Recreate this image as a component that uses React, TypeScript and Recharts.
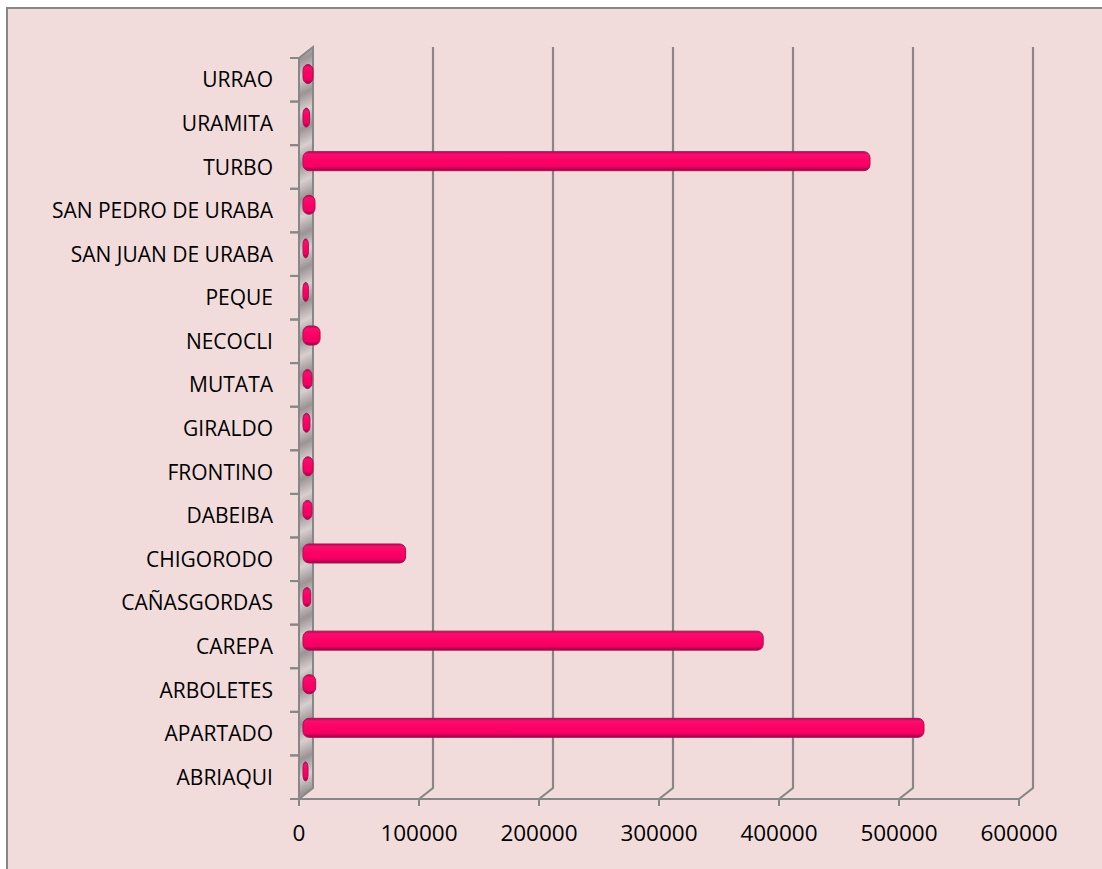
import React from "react";
import { BarChart, Bar, XAxis, YAxis, CartesianGrid } from "recharts";

const categories = [
  "ABRIAQUI",
  "APARTADO",
  "ARBOLETES",
  "CAREPA",
  "CAÑASGORDAS",
  "CHIGORODO",
  "DABEIBA",
  "FRONTINO",
  "GIRALDO",
  "MUTATA",
  "NECOCLI",
  "PEQUE",
  "SAN JUAN DE URABA",
  "SAN PEDRO DE URABA",
  "TURBO",
  "URAMITA",
  "URRAO",
];

const values = [
  1500, 515000, 8000, 381000, 4000, 83000, 5000, 5800, 3300, 5000, 11700, 2000,
  2000, 7500, 470000, 3000, 5800,
];

const xTicks = [0, 100000, 200000, 300000, 400000, 500000, 600000];

const data = categories.map((name, i) => ({ name, value: values[i] }));

const W = 1102;
const H = 869;
const PLOT_LEFT = 299;
const PLOT_RIGHT = 1019;
const PLOT_TOP = 58;
const PLOT_BOTTOM = 799;
const DX = 14;
const DY = -11;
const BAND = (PLOT_BOTTOM - PLOT_TOP) / categories.length;
const GRAY = "#878787";
const FONT = "'Open Sans', sans-serif";

const YTick = (props: any) => {
  const { x, y, payload } = props;
  return (
    <g>
      <line x1={x - 9} x2={x} y1={y - BAND / 2} y2={y - BAND / 2} stroke={GRAY} strokeWidth={2} />
      <line x1={x - 9} x2={x} y1={y + BAND / 2} y2={y + BAND / 2} stroke={GRAY} strokeWidth={2} />
      <text
        x={x - 26}
        y={y}
        dy="0.36em"
        textAnchor="end"
        fontFamily={FONT}
        fontSize={21}
        fill="#000"
      >
        {payload.value}
      </text>
    </g>
  );
};

const renderVertical = (props: any) => {
  const { x1, y1, y2, index, key } = props;
  const top = Math.min(y1, y2);
  const bottom = Math.max(y1, y2);
  if (index === 0 || Math.abs(x1 - PLOT_LEFT) < 1) {
    return (
      <path
        key={key ?? `v-${index}`}
        d={`M${x1},${top} L${x1 + DX},${top + DY} L${x1 + DX},${bottom + DY} L${x1},${bottom} Z`}
        fill="url(#wallGrad)"
        stroke={GRAY}
        strokeWidth={2}
      />
    );
  }
  return (
    <path
      key={key ?? `v-${index}`}
      d={`M${x1 + DX},${top + DY} L${x1 + DX},${bottom + DY} L${x1},${bottom}`}
      fill="none"
      stroke={GRAY}
      strokeWidth={2.2}
    />
  );
};

const BarShape = (props: any) => {
  const { x, y, width, height } = props;
  const bx = x + 4;
  const bw = Math.max(width + 3, 5);
  const by = y - 5.5;
  return (
    <rect
      x={bx}
      y={by}
      width={bw}
      height={height}
      rx={Math.min(6, bw / 2)}
      ry={6}
      fill="url(#barGrad)"
      stroke="#a8124e"
      strokeWidth={1}
    />
  );
};

export default function App() {
  return (
    <div style={{ position: "absolute", left: 0, top: 0, width: W, height: H, background: "#fff" }}>
      <div
        style={{
          position: "absolute",
          left: 6,
          top: 7,
          width: W - 6,
          height: H - 7,
          background: "#f2dcdb",
          borderLeft: `2px solid ${GRAY}`,
          borderTop: `2px solid ${GRAY}`,
          boxSizing: "border-box",
        }}
      />
      <div style={{ position: "absolute", left: 0, top: 0 }}>
        <BarChart
          width={W}
          height={H}
          data={data}
          layout="vertical"
          margin={{ top: PLOT_TOP, right: W - PLOT_RIGHT, bottom: 30, left: 0 }}
          barSize={19}
        >
          <defs>
            <linearGradient id="barGrad" x1="0" y1="0" x2="0" y2="1">
              <stop offset="0%" stopColor="#c0005a" />
              <stop offset="14%" stopColor="#f5106e" />
              <stop offset="45%" stopColor="#ff0066" />
              <stop offset="80%" stopColor="#f00062" />
              <stop offset="100%" stopColor="#98004a" />
            </linearGradient>
            <linearGradient
              id="wallGrad"
              gradientUnits="userSpaceOnUse"
              x1="0"
              y1="0"
              x2="14"
              y2="28"
              spreadMethod="repeat"
            >
              <stop offset="0%" stopColor="#9c9494" />
              <stop offset="50%" stopColor="#d8cfcf" />
              <stop offset="100%" stopColor="#9c9494" />
            </linearGradient>
          </defs>
          <CartesianGrid horizontal={false} vertical={renderVertical} stroke={GRAY} />
          <XAxis
            type="number"
            domain={[0, 600000]}
            ticks={xTicks}
            interval={0}
            height={40}
            axisLine={{ stroke: GRAY, strokeWidth: 2 }}
            tickLine={{ stroke: GRAY, strokeWidth: 2 }}
            tickSize={7}
            tickMargin={19}
            tick={{ fontFamily: FONT, fontSize: 22.5, fill: "#000" }}
          />
          <YAxis
            type="category"
            dataKey="name"
            reversed
            width={PLOT_LEFT}
            axisLine={false}
            tickLine={false}
            tickSize={0}
            tickMargin={0}
            interval={0}
            tick={<YTick />}
          />
          <Bar dataKey="value" shape={<BarShape />} isAnimationActive={false} />
        </BarChart>
      </div>
    </div>
  );
}
